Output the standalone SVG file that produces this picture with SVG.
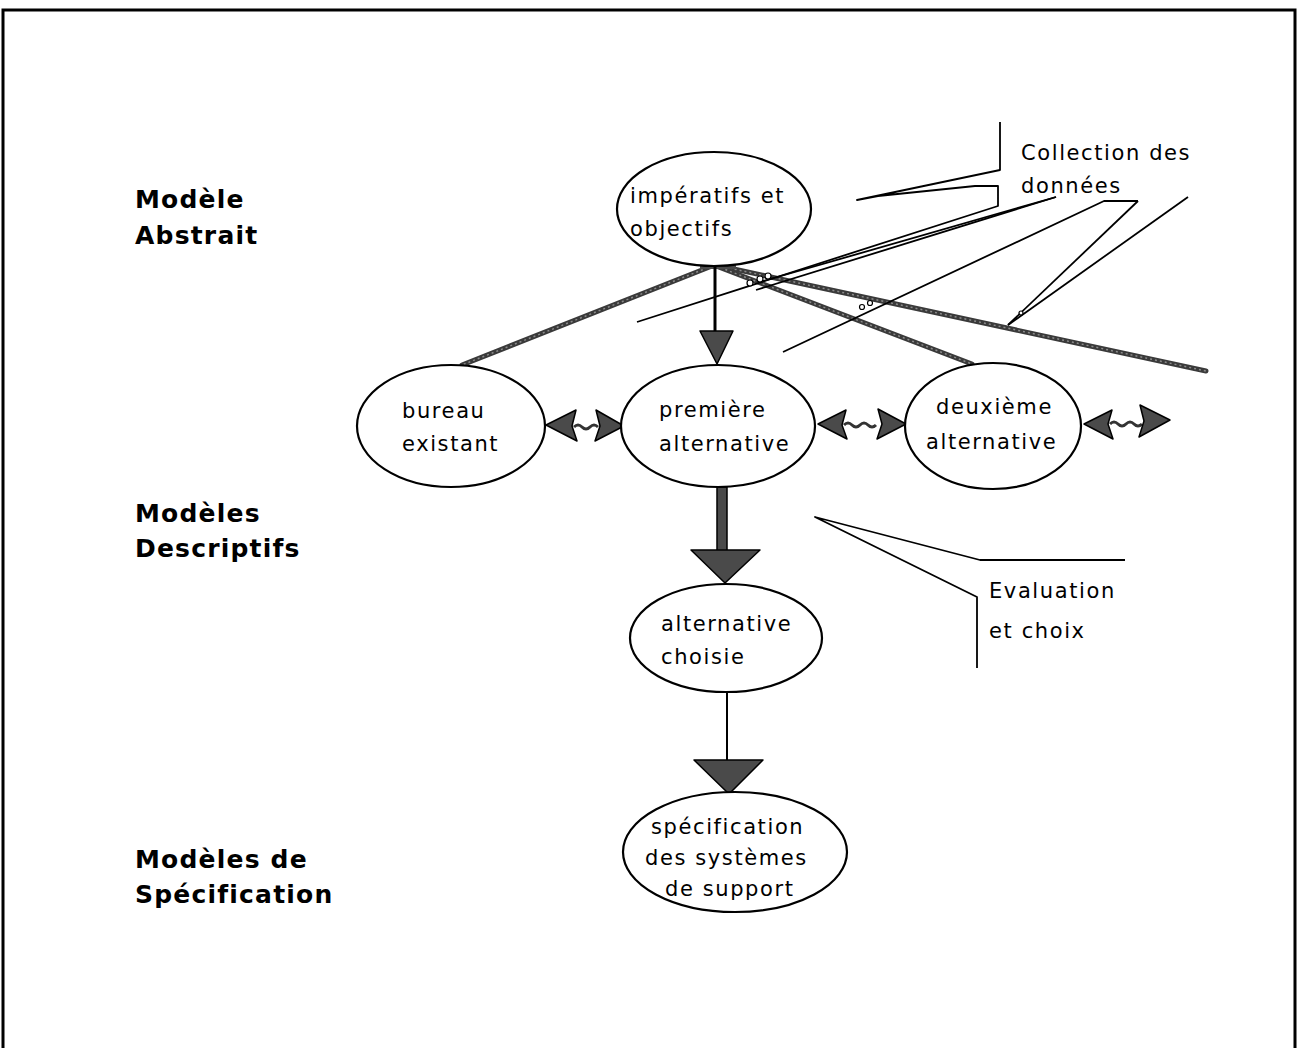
<svg xmlns="http://www.w3.org/2000/svg" width="1298" height="1048" viewBox="0 0 1298 1048">
  <style>
    .bg { fill: #ffffff; }
    .frame { fill: none; stroke: #000; stroke-width: 3; }
    .node { fill: #fff; stroke: #000; stroke-width: 2.2; }
    .txt { font-family: "DejaVu Sans", "Liberation Sans", sans-serif; font-size: 21px; letter-spacing: 1.6px; fill: #000; }
    .lbl { font-family: "DejaVu Sans", "Liberation Sans", sans-serif; font-size: 25px; font-weight: bold; letter-spacing: 1.2px; fill: #000; }
    .thin { fill: none; stroke: #000; stroke-width: 1.8; stroke-linejoin: round; }
    .thick { fill: none; stroke: #3a3a3a; stroke-width: 5; stroke-linecap: round; }
    .thickcore { fill: none; stroke: #8a8a8a; stroke-width: 1.5; stroke-dasharray: 2 3; }
    .head { fill: #4a4a4a; stroke: #000; stroke-width: 1.5; stroke-linejoin: round; }
    .shaft { fill: none; stroke: #000; }
    .wave { fill: none; stroke: #333; stroke-width: 3; }
    .dot { fill: #fff; stroke: #000; stroke-width: 1.2; }
  </style>

  <rect class="bg" x="0" y="0" width="1298" height="1048"/>
  <path class="frame" d="M3,1048 V10 H1295 V1048"/>

  <g id="level-labels">
    <text class="lbl" x="135" y="208">Modèle</text>
    <text class="lbl" x="135" y="244">Abstrait</text>
    <text class="lbl" x="135" y="522">Modèles</text>
    <text class="lbl" x="135" y="557">Descriptifs</text>
    <text class="lbl" x="135" y="868">Modèles de</text>
    <text class="lbl" x="135" y="903">Spécification</text>
  </g>

  <g id="connectors">
    <!-- thick textured lines from objectives -->
    <path class="thick" d="M712,266 L462,365"/>
    <path class="thick" d="M716,266 L972,364"/>
    <path class="thick" d="M720,266 L1206,371"/>
    <path class="thickcore" d="M712,266 L462,365"/>
    <path class="thickcore" d="M716,266 L972,364"/>
    <path class="thickcore" d="M720,266 L1206,371"/>
    <rect x="700" y="263" width="36" height="6" fill="#4a4a4a"/>

    <!-- Collection des données callout lines -->
    <path class="thin" d="M1000,122 L1000,170 L857,200 L878,196 L975,186 L998,186 L998,206 L637,322"/>
    <path class="thin" d="M1056,197 L760,282"/>
    <path class="thin" d="M1056,197 L756,290"/>
    <path class="thin" d="M1138,201 L1104,201 L783,352"/>
    <path class="thin" d="M1138,201 L1008,325"/>
    <path class="thin" d="M1188,197 L1008,325"/>
    <circle class="dot" cx="750" cy="283" r="3"/>
    <circle class="dot" cx="760" cy="279" r="3"/>
    <circle class="dot" cx="768" cy="276" r="3"/>
    <circle class="dot" cx="862" cy="307" r="2.5"/>
    <circle class="dot" cx="870" cy="303" r="2.5"/>
    <circle class="dot" cx="1021" cy="313" r="2"/>

    <!-- Evaluation et choix callout -->
    <path class="thin" d="M1125,560 L980,560 L815,517 L977,597 L977,668"/>

    <!-- objectives -> premiere -->
    <path class="shaft" stroke-width="3" d="M715,266 V332"/>
    <path class="head" d="M700,331 L733,331 L717,364 Z"/>

    <!-- premiere -> alternative choisie -->
    <rect x="717" y="487" width="10" height="64" fill="#4a4a4a" stroke="#000" stroke-width="1.5"/>
    <path class="head" d="M691,550 L760,550 L725,583 Z"/>

    <!-- alternative choisie -> specification -->
    <path class="shaft" stroke-width="2" d="M727,692 V761"/>
    <path class="head" d="M694,760 L763,760 L729,794 Z"/>

    <!-- double arrows between alternatives -->
    <path class="wave" d="M574,427 q4,-4 8,0 t8,0 t8,0"/>
    <path class="head" d="M546,425 L576,410 L572,426 L577,441 Z"/>
    <path class="head" d="M624,426 L596,410 L600,426 L595,441 Z"/>

    <path class="wave" d="M844,425 q4,-4 8,0 t8,0 t8,0 t8,0"/>
    <path class="head" d="M818,424 L846,410 L842,425 L847,439 Z"/>
    <path class="head" d="M906,424 L878,409 L882,424 L877,439 Z"/>

    <path class="wave" d="M1110,424 q4,-4 8,0 t8,0 t8,0 t8,0"/>
    <path class="head" d="M1084,424 L1112,410 L1108,424 L1113,439 Z"/>
    <path class="head" d="M1170,420 L1140,405 L1144,421 L1139,437 Z"/>
  </g>

  <g id="node-objectifs">
    <ellipse class="node" cx="714" cy="209" rx="97" ry="57"/>
    <text class="txt" x="630" y="203">impératifs et</text>
    <text class="txt" x="630" y="236">objectifs</text>
  </g>

  <g id="node-bureau">
    <ellipse class="node" cx="451" cy="426" rx="94" ry="61"/>
    <text class="txt" x="402" y="418">bureau</text>
    <text class="txt" x="402" y="451">existant</text>
  </g>

  <g id="node-premiere">
    <ellipse class="node" cx="718" cy="426" rx="97" ry="61"/>
    <text class="txt" x="659" y="417">première</text>
    <text class="txt" x="659" y="451">alternative</text>
  </g>

  <g id="node-deuxieme">
    <ellipse class="node" cx="993" cy="426" rx="88" ry="63"/>
    <text class="txt" x="936" y="414">deuxième</text>
    <text class="txt" x="926" y="449">alternative</text>
  </g>

  <g id="node-choisie">
    <ellipse class="node" cx="726" cy="638" rx="96" ry="54"/>
    <text class="txt" x="661" y="631">alternative</text>
    <text class="txt" x="661" y="664">choisie</text>
  </g>

  <g id="node-specification">
    <ellipse class="node" cx="735" cy="852" rx="112" ry="60"/>
    <text class="txt" x="651" y="834">spécification</text>
    <text class="txt" x="645" y="865">des systèmes</text>
    <text class="txt" x="665" y="896">de support</text>
  </g>

  <g id="annotations">
    <text class="txt" x="1021" y="160">Collection des</text>
    <text class="txt" x="1021" y="193">données</text>
    <text class="txt" x="989" y="598">Evaluation</text>
    <text class="txt" x="989" y="638">et choix</text>
  </g>
</svg>
